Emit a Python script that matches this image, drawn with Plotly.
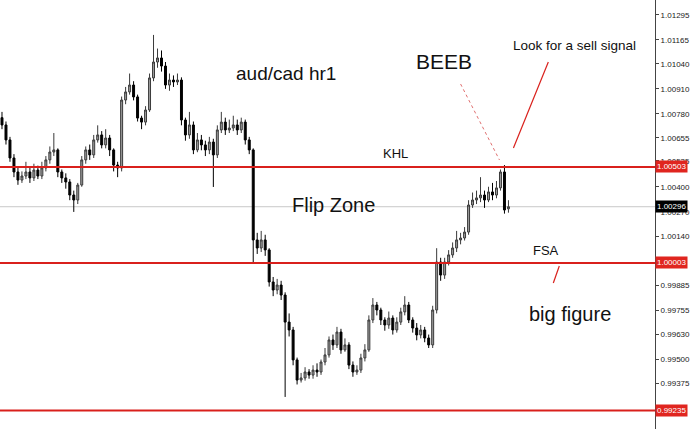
import plotly.graph_objects as go

# ---- data (AUD/CAD H1) ----
opens = [1.00760, 1.00722, 1.00644, 1.00550, 1.00477, 1.00435, 1.00456, 1.00477, 1.00446, 1.00487,
         1.00456, 1.00498, 1.00540, 1.00581, 1.00592, 1.00477, 1.00446, 1.00425, 1.00357, 1.00331,
         1.00409, 1.00540, 1.00592, 1.00566, 1.00644, 1.00670, 1.00618, 1.00654, 1.00592, 1.00513,
         1.00498, 1.00852, 1.00894, 1.00930, 1.00868, 1.00758, 1.00737, 1.00800, 1.00967, 1.01050,
         1.01071, 1.01029, 1.00930, 1.00956, 1.00946, 1.00956, 1.00748, 1.00670, 1.00722, 1.00592,
         1.00644, 1.00618, 1.00592, 1.00633, 1.00566, 1.00696, 1.00737, 1.00696, 1.00706, 1.00722,
         1.00696, 1.00737, 1.00644, 1.00592, 1.00123, 1.00081, 1.00123, 1.00071, 0.99904, 0.99862,
         0.99888, 0.99836, 0.99695, 0.99654, 0.99498, 0.99393, 0.99404, 0.99435, 0.99419, 0.99445,
         0.99435, 0.99487, 0.99524, 0.99602, 0.99576, 0.99643, 0.99550, 0.99576, 0.99471, 0.99435,
         0.99445, 0.99508, 0.99550, 0.99706, 0.99784, 0.99758, 0.99706, 0.99680, 0.99716, 0.99654,
         0.99695, 0.99748, 0.99784, 0.99706, 0.99664, 0.99628, 0.99654, 0.99612, 0.99576, 0.99758,
         1.00008, 0.99940, 1.00008, 1.00045, 1.00081, 1.00123, 1.00133, 1.00164, 1.00305, 1.00331,
         1.00342, 1.00357, 1.00331, 1.00373, 1.00357, 1.00394, 1.00477, 1.00285]
highs = [1.00790, 1.00740, 1.00660, 1.00570, 1.00500, 1.00480, 1.00530, 1.00500, 1.00520, 1.00510,
         1.00530, 1.00560, 1.00610, 1.00680, 1.00600, 1.00490, 1.00470, 1.00440, 1.00380, 1.00420,
         1.00560, 1.00610, 1.00620, 1.00670, 1.00720, 1.00690, 1.00700, 1.00670, 1.00600, 1.00530,
         1.00870, 1.00920, 1.00990, 1.00950, 1.00880, 1.00770, 1.00820, 1.00990, 1.01191, 1.01120,
         1.01110, 1.01050, 1.00990, 1.00980, 1.00990, 1.00970, 1.00760, 1.00790, 1.00740, 1.00680,
         1.00670, 1.00640, 1.00660, 1.00650, 1.00720, 1.00790, 1.00760, 1.00750, 1.00770, 1.00750,
         1.00760, 1.00750, 1.00660, 1.00600, 1.00160, 1.00170, 1.00150, 1.00080, 0.99930, 0.99920,
         0.99910, 0.99850, 0.99740, 0.99670, 0.99510, 0.99430, 0.99460, 0.99450, 0.99470, 0.99480,
         0.99500, 0.99560, 0.99620, 0.99630, 0.99670, 0.99660, 0.99610, 0.99590, 0.99490, 0.99470,
         0.99530, 0.99580, 0.99730, 0.99820, 0.99800, 0.99770, 0.99720, 0.99750, 0.99730, 0.99720,
         0.99770, 0.99830, 0.99800, 0.99720, 0.99690, 0.99680, 0.99670, 0.99630, 0.99780, 1.00080,
         1.00030, 1.00030, 1.00070, 1.00110, 1.00170, 1.00160, 1.00190, 1.00330, 1.00370, 1.00380,
         1.00450, 1.00380, 1.00400, 1.00420, 1.00430, 1.00490, 1.00513, 1.00330]
lows = [1.00700, 1.00620, 1.00530, 1.00450, 1.00410, 1.00420, 1.00440, 1.00420, 1.00430, 1.00440,
        1.00440, 1.00480, 1.00520, 1.00560, 1.00450, 1.00420, 1.00390, 1.00330, 1.00269, 1.00310,
        1.00400, 1.00520, 1.00540, 1.00550, 1.00630, 1.00600, 1.00600, 1.00560, 1.00480, 1.00450,
        1.00480, 1.00830, 1.00880, 1.00850, 1.00740, 1.00700, 1.00720, 1.00790, 1.00950, 1.01020,
        1.01000, 1.00910, 1.00900, 1.00920, 1.00930, 1.00720, 1.00640, 1.00650, 1.00570, 1.00580,
        1.00590, 1.00560, 1.00570, 1.00399, 1.00550, 1.00680, 1.00670, 1.00680, 1.00690, 1.00670,
        1.00680, 1.00620, 1.00570, 1.00003, 1.00050, 1.00060, 1.00040, 0.99880, 0.99830, 0.99840,
        0.99810, 0.99305, 0.99620, 0.99470, 0.99370, 0.99380, 0.99390, 0.99400, 0.99400, 0.99410,
        0.99420, 0.99470, 0.99510, 0.99550, 0.99560, 0.99530, 0.99540, 0.99450, 0.99410, 0.99420,
        0.99430, 0.99490, 0.99540, 0.99690, 0.99730, 0.99680, 0.99650, 0.99660, 0.99630, 0.99640,
        0.99680, 0.99730, 0.99690, 0.99640, 0.99600, 0.99610, 0.99590, 0.99560, 0.99560, 0.99740,
        0.99910, 0.99920, 0.99990, 1.00030, 1.00060, 1.00100, 1.00120, 1.00150, 1.00290, 1.00310,
        1.00320, 1.00290, 1.00320, 1.00330, 1.00340, 1.00380, 1.00260, 1.00265]
closes = [1.00722, 1.00644, 1.00550, 1.00477, 1.00435, 1.00456, 1.00477, 1.00446, 1.00487, 1.00456,
          1.00498, 1.00540, 1.00581, 1.00592, 1.00477, 1.00446, 1.00425, 1.00357, 1.00331, 1.00409,
          1.00540, 1.00592, 1.00566, 1.00644, 1.00670, 1.00618, 1.00654, 1.00592, 1.00513, 1.00498,
          1.00852, 1.00894, 1.00930, 1.00868, 1.00758, 1.00737, 1.00800, 1.00967, 1.01050, 1.01071,
          1.01029, 1.00930, 1.00956, 1.00946, 1.00956, 1.00748, 1.00670, 1.00722, 1.00592, 1.00644,
          1.00618, 1.00592, 1.00633, 1.00566, 1.00696, 1.00737, 1.00696, 1.00706, 1.00722, 1.00696,
          1.00737, 1.00644, 1.00592, 1.00123, 1.00081, 1.00123, 1.00071, 0.99904, 0.99862, 0.99888,
          0.99836, 0.99695, 0.99654, 0.99498, 0.99393, 0.99404, 0.99435, 0.99419, 0.99445, 0.99435,
          0.99487, 0.99524, 0.99602, 0.99576, 0.99643, 0.99550, 0.99576, 0.99471, 0.99435, 0.99445,
          0.99508, 0.99550, 0.99706, 0.99784, 0.99758, 0.99706, 0.99680, 0.99716, 0.99654, 0.99695,
          0.99748, 0.99784, 0.99706, 0.99664, 0.99628, 0.99654, 0.99612, 0.99576, 0.99758, 1.00008,
          0.99940, 1.00008, 1.00045, 1.00081, 1.00123, 1.00133, 1.00164, 1.00305, 1.00331, 1.00342,
          1.00357, 1.00331, 1.00373, 1.00357, 1.00394, 1.00477, 1.00279, 1.00296]
bars = list(range(len(closes)))

tick_values = [1.01295, 1.01165, 1.01040, 1.00910, 1.00780, 1.00655, 1.00535, 1.00400, 1.00270,
               1.00140, 1.00010, 0.99885, 0.99755, 0.99630, 0.99500, 0.99375, 0.99245]
tick_labels = ["1.01295", "1.01165", "1.01040", "1.00910", "1.00780", "1.00655", "1.00535", "1.00400",
               "1.00270", "1.00140", "", "0.99885", "0.99755", "0.99630", "0.99500", "0.99375", ""]

red_levels = [1.00503, 1.00003, 0.99235]
red_labels = ["1.00503", "1.00003", "0.99235"]
current_price = 1.00296
current_label = "1.00296"

W, H = 690, 429
L, R, T, B = 0, 33, 0, 0
PW, PH = W - L - R, H - T - B


def px(x):
    return x / PW


def py(y):
    return 1 - y / PH


fig = go.Figure()
fig.add_trace(go.Candlestick(
    x=bars, open=opens, high=highs, low=lows, close=closes,
    increasing=dict(line=dict(color="#3a3a3a", width=1), fillcolor="#a0a0a0"),
    decreasing=dict(line=dict(color="#000000", width=1), fillcolor="#000000"),
    whiskerwidth=0, showlegend=False, hoverinfo="skip",
))

shapes = []
# current price line (gray)
shapes.append(dict(type="line", xref="paper", yref="y", x0=0, x1=1, y0=current_price, y1=current_price,
                   line=dict(color="#c8c8c8", width=1), layer="below"))
for lv in red_levels:
    shapes.append(dict(type="line", xref="paper", yref="y", x0=0, x1=1, y0=lv, y1=lv,
                       line=dict(color="#d9201c", width=2)))
# pointer lines
shapes.append(dict(type="line", xref="paper", yref="paper", x0=px(462), y0=py(84), x1=px(501), y1=py(160),
                   line=dict(color="#e07070", width=1, dash="dot")))
shapes.append(dict(type="line", xref="paper", yref="paper", x0=px(550), y0=py(62), x1=px(515), y1=py(148),
                   line=dict(color="#d9201c", width=1.2)))
shapes.append(dict(type="line", xref="paper", yref="paper", x0=px(561), y0=py(266), x1=px(555), y1=py(283),
                   line=dict(color="#d9201c", width=1.2)))

annotations = []
txt_font = "Liberation Sans, Arial, sans-serif"


def label(text, x, y, size):
    annotations.append(dict(text=text, x=px(x), y=py(y), xref="paper", yref="paper",
                            showarrow=False, xanchor="center", yanchor="middle",
                            font=dict(family=txt_font, size=size, color="#111111")))


label("aud/cad hr1", 287, 73, 19)
label("BEEB", 445, 62, 21)
label("Look for a sell signal", 576, 45, 13.5)
label("KHL", 397, 153, 13)
label("Flip Zone", 335, 205, 20)
label("FSA", 548, 251, 13)
label("big figure", 572, 314, 20)

for lv, lb in zip(red_levels, red_labels):
    annotations.append(dict(text=lb, x=1, y=lv, xref="paper", yref="y", showarrow=False,
                            xanchor="left", yanchor="middle", bgcolor="#e0251f", borderpad=1,
                            font=dict(family=txt_font, size=8, color="#ffffff")))
annotations.append(dict(text=current_label, x=1, y=current_price, xref="paper", yref="y", showarrow=False,
                        xanchor="left", yanchor="middle", bgcolor="#000000", borderpad=1,
                        font=dict(family=txt_font, size=8, color="#ffffff")))

top_price = 1.01373
bottom_price = 0.99138

fig.update_layout(
    width=W, height=H,
    margin=dict(l=L, r=R, t=T, b=B),
    paper_bgcolor="white", plot_bgcolor="white",
    shapes=shapes, annotations=annotations,
    showlegend=False,
    xaxis=dict(range=[-0.5, 163.75], visible=False, rangeslider=dict(visible=False), fixedrange=True),
    yaxis=dict(range=[bottom_price, top_price], side="right", showgrid=False, zeroline=False,
               tickvals=tick_values, ticktext=tick_labels, ticks="outside", ticklen=3,
               tickcolor="#444444", showline=True, linecolor="#444444", linewidth=1,
               tickfont=dict(family=txt_font, size=8, color="#222222"), fixedrange=True),
)

fig.write_html("out.html", config={"displayModeBar": False},
               post_script="document.body.style.margin='0px';document.body.style.overflow='hidden';")
